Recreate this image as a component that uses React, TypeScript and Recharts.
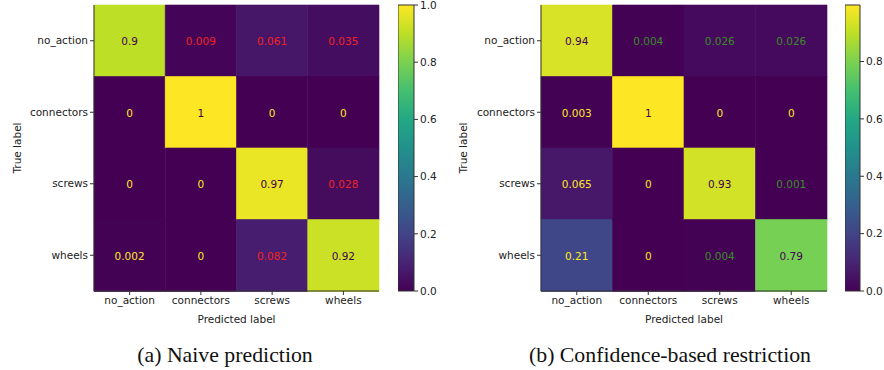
import { Bar, BarChart, Cell, LabelList, XAxis, YAxis } from "recharts";

const CLASSES = ["no_action", "connectors", "screws", "wheels"];

// rows = true label, columns = predicted label
const NAIVE = [
  [0.9, 0.009, 0.061, 0.035],
  [0, 1, 0, 0],
  [0, 0, 0.97, 0.028],
  [0.002, 0, 0.082, 0.92],
];

const RESTRICTED = [
  [0.94, 0.004, 0.026, 0.026],
  [0.003, 0.997, 0, 0],
  [0.065, 0, 0.93, 0.001],
  [0.21, 0, 0.004, 0.79],
];

// cells whose text is coloured by hand in the figure
const HIGHLIGHT = [
  [0, 1],
  [0, 2],
  [0, 3],
  [2, 3],
  [3, 2],
];

const NAIVE_TICKS = [0, 0.2, 0.4, 0.6, 0.8, 1.0];
const RESTRICTED_TICKS = [0, 0.2, 0.4, 0.6, 0.8];

const VIRIDIS = [
  "#440154", "#482475", "#414487", "#355f8d", "#2a788e", "#21918c",
  "#22a884", "#44bf70", "#7ad151", "#bddf26", "#fde725",
];

function hexToRgb(h: string) {
  return [1, 3, 5].map((i) => parseInt(h.slice(i, i + 2), 16));
}

function viridis(t: number) {
  const x = Math.max(0, Math.min(1, t)) * (VIRIDIS.length - 1);
  const i = Math.min(Math.floor(x), VIRIDIS.length - 2);
  const f = x - i;
  const a = hexToRgb(VIRIDIS[i]);
  const b = hexToRgb(VIRIDIS[i + 1]);
  const c = a.map((v, k) => Math.round(v + (b[k] - v) * f));
  return `rgb(${c[0]},${c[1]},${c[2]})`;
}

const fmt = (v: number) => String(Number(v.toPrecision(2)));

const FONT = "DejaVu Sans";
const TICK = { fontSize: 10.5, fill: "#222", fontFamily: FONT };

type HeatProps = {
  matrix: number[][];
  hlColor: string;
  width: number;
  yWidth: number;
  right: number;
  labelX: number;
};

function Heatmap({ matrix, hlColor, width, yWidth, right, labelX }: HeatProps) {
  const vmax = Math.max(...matrix.flat());
  const vmin = Math.min(...matrix.flat());
  const rows = CLASSES.map((name) => ({ name, u0: 1, u1: 1, u2: 1, u3: 1 }));
  const isHl = (r: number, c: number) => HIGHLIGHT.some(([a, b]) => a === r && b === c);

  return (
    <BarChart
      layout="vertical"
      width={width}
      height={330}
      data={rows}
      margin={{ top: 5, right, bottom: 0, left: 0 }}
      barCategoryGap={0}
    >
      {CLASSES.map((_, c) => (
        <Bar key={c} dataKey={`u${c}`} stackId="m" isAnimationActive={false}>
          {rows.map((_, r) => {
            const col = viridis(matrix[r][c] / vmax);
            return <Cell key={r} fill={col} stroke={col} strokeWidth={0.6} />;
          })}
          <LabelList
            content={(p: any) => {
              const v = matrix[p.index][c];
              const color = isHl(p.index, c)
                ? hlColor
                : v > (vmax + vmin) / 2
                ? VIRIDIS[0]
                : VIRIDIS[VIRIDIS.length - 1];
              return (
                <text
                  x={p.x + p.width / 2}
                  y={p.y + p.height / 2}
                  textAnchor="middle"
                  dominantBaseline="central"
                  fontSize={10.5}
                  fill={color}
                  fontFamily={FONT}
                >
                  {fmt(v)}
                </text>
              );
            }}
          />
        </Bar>
      ))}
      <XAxis
        type="number"
        domain={[0, 4]}
        ticks={[0.5, 1.5, 2.5, 3.5]}
        interval={0}
        tickFormatter={(t: number) => CLASSES[Math.floor(t)]}
        height={39}
        tickSize={4}
        tick={TICK}
        stroke="#333"
        label={{
          content: (p: any) => (
            <text
              x={p.viewBox.x + p.viewBox.width / 2}
              y={p.viewBox.y + 28}
              textAnchor="middle"
              dominantBaseline="central"
              fontSize={10.5}
              fill="#222"
              fontFamily={FONT}
            >
              Predicted label
            </text>
          ),
        }}
      />
      <XAxis xAxisId="top" orientation="top" type="number" domain={[0, 4]} height={0} tick={false} tickLine={false} stroke="#333" />
      <YAxis
        type="category"
        dataKey="name"
        width={yWidth}
        interval={0}
        tickSize={4}
        tick={TICK}
        stroke="#333"
        label={{
          content: (p: any) => {
            const cy = p.viewBox.y + p.viewBox.height / 2;
            return (
              <text
                x={labelX}
                y={cy}
                transform={`rotate(-90, ${labelX}, ${cy})`}
                textAnchor="middle"
                dominantBaseline="central"
                fontSize={10.5}
                fill="#222"
                fontFamily={FONT}
              >
                True label
              </text>
            );
          },
        }}
      />
      <YAxis yAxisId="right" orientation="right" type="category" dataKey="name" width={0} tick={false} tickLine={false} stroke="#333" />
    </BarChart>
  );
}

function Colorbar({ vmax, ticks, width, id }: { vmax: number; ticks: number[]; width: number; id: string }) {
  return (
    <BarChart
      width={width}
      height={330}
      data={[{ k: "cb", v: vmax }]}
      margin={{ top: 5, right: 0, bottom: 39, left: 0 }}
      barCategoryGap={0}
    >
      <defs>
        <linearGradient id={id} x1="0" y1="1" x2="0" y2="0">
          {VIRIDIS.map((col, i) => (
            <stop key={i} offset={i / (VIRIDIS.length - 1)} stopColor={col} />
          ))}
        </linearGradient>
      </defs>
      <XAxis dataKey="k" hide />
      <YAxis
        orientation="right"
        type="number"
        domain={[0, vmax]}
        ticks={ticks}
        interval={0}
        tickFormatter={(v: number) => v.toFixed(1)}
        width={30}
        tickSize={4}
        tick={TICK}
        stroke="#333"
        axisLine={false}
      />
      <Bar dataKey="v" fill={`url(#${id})`} stroke="#333" strokeWidth={1} isAnimationActive={false} />
    </BarChart>
  );
}

const captionStyle = {
  position: "absolute" as const,
  top: 342,
  height: 26,
  lineHeight: "26px",
  fontFamily: "Liberation Serif",
  fontSize: 21.8,
  color: "#111",
  textAlign: "center" as const,
  whiteSpace: "nowrap" as const,
};

export default function App() {
  return (
    <div
      style={{
        position: "fixed",
        left: 0,
        top: 0,
        width: 884,
        height: 370,
        background: "#fff",
        overflow: "hidden",
        fontFamily: FONT,
      }}
    >
      <div style={{ position: "absolute", left: 0, top: 0 }}>
        <Heatmap matrix={NAIVE} hlColor="#f02424" width={390} yWidth={94} right={11} labelX={17} />
      </div>
      <div style={{ position: "absolute", left: 398, top: 0 }}>
        <Colorbar vmax={Math.max(...NAIVE.flat())} ticks={NAIVE_TICKS} width={46} id="cbA" />
      </div>
      <div style={{ position: "absolute", left: 440, top: 0 }}>
        <Heatmap matrix={RESTRICTED} hlColor="#3a8c2a" width={400} yWidth={101} right={13} labelX={23} />
      </div>
      <div style={{ position: "absolute", left: 845, top: 0 }}>
        <Colorbar vmax={Math.max(...RESTRICTED.flat())} ticks={RESTRICTED_TICKS} width={45} id="cbB" />
      </div>
      <div style={{ ...captionStyle, left: 105, width: 240 }}>(a) Naive prediction</div>
      <div style={{ ...captionStyle, left: 500, width: 340 }}>(b) Confidence-based restriction</div>
    </div>
  );
}
